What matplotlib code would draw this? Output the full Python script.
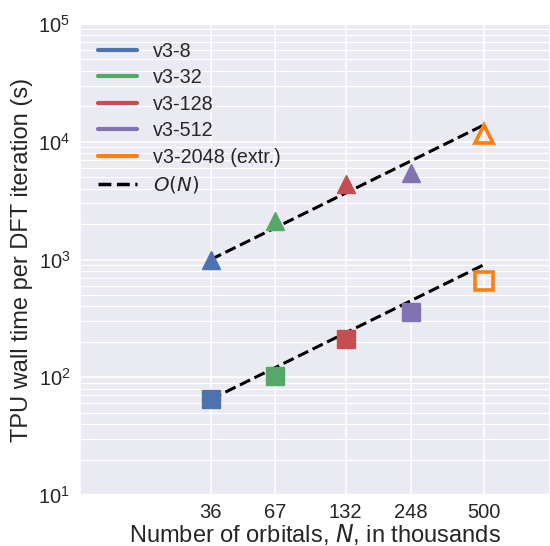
import numpy as np
import matplotlib
matplotlib.use("Agg")
import matplotlib.pyplot as plt
import seaborn as sns
from matplotlib.lines import Line2D
from matplotlib.ticker import NullLocator

sns.set_theme(style="darkgrid")
plt.rcParams['font.family'] = ['Liberation Sans', 'DejaVu Sans']

# orbitals in thousands
n_orbitals = [36, 67, 132, 248, 500]
n_labels = ['36', '67', '132', '248', '500']
# wall time per DFT iteration (s), two series
time_tri = [1000, 2130, 4390, 5380, 11700]
time_sq = [65, 103, 213, 355, 653]
slices = ['v3-8', 'v3-32', 'v3-128', 'v3-512', 'v3-2048 (extr.)']
colors = ['#4C72B0', '#55A868', '#C44E52', '#8172B2', '#ff7f0e']

fig = plt.figure(figsize=(5.5, 5.46), dpi=100)
ax = fig.add_axes([80 / 550, 51 / 546, 470 / 550, 471 / 546])

ax.set_xscale('log')
ax.set_yscale('log')

# O(N) reference lines through the first point of each series
n = np.array(n_orbitals, dtype=float)
for series in (time_tri, time_sq):
    ax.plot(n, series[0] * n / n[0], ls='--', color='black', lw=2.2, zorder=2)

for i in range(len(n_orbitals)):
    face = 'none' if i == len(n_orbitals) - 1 else colors[i]
    ax.plot(n_orbitals[i], time_tri[i], marker='^', ms=13.5, color=colors[i],
            mfc=face, mew=2.6 if face == 'none' else 1, ls='none', zorder=3)
    ax.plot(n_orbitals[i], time_sq[i], marker='s', ms=13, color=colors[i],
            mfc=face, mew=2.6 if face == 'none' else 1, ls='none', zorder=3)

ax.set_xlim(10.2, 945)
ax.set_ylim(10, 1e5)
ax.set_xticks(n_orbitals)
ax.set_xticklabels(n_labels)
ax.xaxis.set_minor_locator(NullLocator())
ax.grid(True, which='major', color='white', lw=1.1)
ax.grid(True, which='minor', axis='y', color='white', lw=0.9)
ax.tick_params(axis='both', which='both', length=0, labelsize=14.5, pad=7)
ax.tick_params(axis='x', pad=6)

ax.set_xlabel('Number of orbitals, $N$, in thousands', fontsize=17, labelpad=0)
ax.set_ylabel('TPU wall time per DFT iteration (s)', fontsize=17)

handles = [Line2D([], [], color=c, lw=3) for c in colors]
handles.append(Line2D([], [], color='black', lw=2.5, ls='--'))
labels = slices + ['$O(N)$']
ax.legend(handles, labels, loc='upper left', frameon=False, fontsize=14.2,
          labelspacing=0.38)

fig.savefig('out.png', dpi=100)
